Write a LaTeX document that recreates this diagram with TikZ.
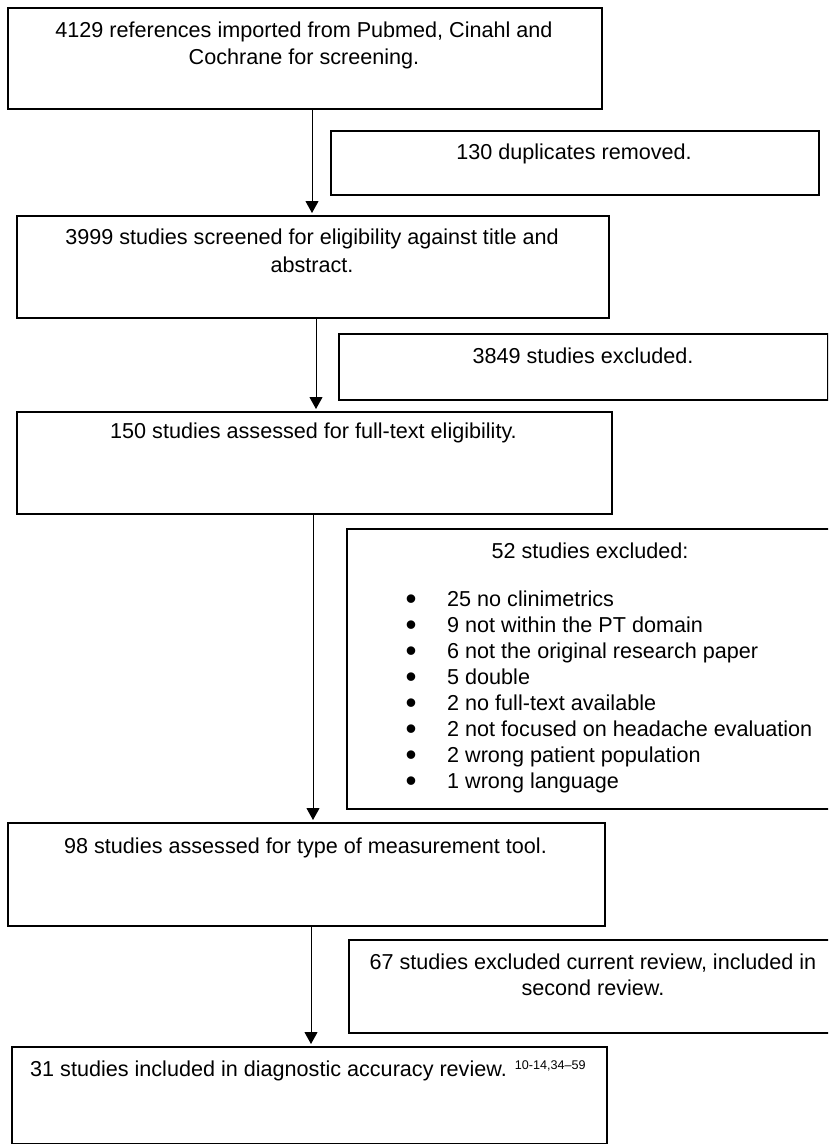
\documentclass[tikz,border=0pt]{standalone}
\usepackage{fontspec}
\setmainfont{Liberation Sans}
\usetikzlibrary{arrows.meta}
\begin{document}
\begin{tikzpicture}[x=1pt,y=-1pt,
  box/.style={draw=black, line width=2pt, inner sep=0pt, anchor=north west, rectangle},
  txt/.style={inner sep=0pt, anchor=base, font=\fontsize{21.6}{28}\selectfont},
  ltxt/.style={txt, anchor=base west},
  arr/.style={draw=black, line width=1pt, -{Triangle[width=13pt,length=12pt]}, shorten >=2pt}]
\useasboundingbox (0,0) rectangle (828,1144);
\clip (0,0) rectangle (828,1144);

% boxes of the main flow
\node[box, minimum width=594pt, minimum height=101pt] (b1) at (7,7) {};
\node[box, minimum width=592pt, minimum height=102pt] (b3) at (16,215) {};
\node[box, minimum width=595pt, minimum height=102pt] (b5) at (16,411) {};
\node[box, minimum width=597pt, minimum height=103pt] (b7) at (7,822) {};
\node[box, minimum width=595pt, minimum height=97pt]  (b9) at (11,1046) {};

% side boxes with exclusions
\node[box, minimum width=488pt, minimum height=64pt]  (b2) at (330,130) {};
\node[box, minimum width=489pt, minimum height=66pt]  (b4) at (338,333) {};
\node[box, minimum width=490pt, minimum height=280pt] (b6) at (346,528) {};
\node[box, minimum width=490pt, minimum height=93pt]  (b8) at (348,939) {};

% texts
\node[txt] (t1a) at (304,37) {4129 references imported from Pubmed, Cinahl and};
\node[txt] (t1b) at (304,64) {Cochrane for screening.};
\node[txt] (t2)  at (574,159) {130 duplicates removed.};
\node[txt] (t3a) at (312,244) {3999 studies screened for eligibility against title and};
\node[txt] (t3b) at (312,272) {abstract.};
\node[txt] (t4)  at (583,363) {3849 studies excluded.};
\node[txt] (t5)  at (313.5,438) {150 studies assessed for full-text eligibility.};
\node[txt] (t6)  at (590,558) {52 studies excluded:};
\foreach \t [count=\i from 0] in {25 no clinimetrics, 9 not within the PT domain,
    6 not the original research paper, 5 double, 2 no full-text available,
    2 not focused on headache evaluation, 2 wrong patient population, 1 wrong language}
  \node[ltxt] (bl\i) at (405.5,606+26.1*\i)
    {\makebox[41.5pt][l]{\smash{\raisebox{-3pt}{\scalebox{1.45}{•}}}}\t};
\node[txt] (t7)  at (305.5,853) {98 studies assessed for type of measurement tool.};
\node[txt] (t8a) at (593,969) {67 studies excluded current review, included in};
\node[txt] (t8b) at (593,995) {second review.};
\node[ltxt] (t9) at (30,1076) {31 studies included in diagnostic accuracy review. \raisebox{7pt}{\fontsize{12.6}{13}\selectfont 10-14,34–59}};

% vertical arrows
\coordinate (x1) at (312,0);
\coordinate (x2) at (316,0);
\coordinate (x3) at (313,0);
\coordinate (x4) at (311,0);
\draw[arr] (x1 |- b1.south) -- (x1 |- b3.north);
\draw[arr] (x2 |- b3.south) -- (x2 |- b5.north);
\draw[arr] (x3 |- b5.south) -- (x3 |- b7.north);
\draw[arr] (x4 |- b7.south) -- (x4 |- b9.north);
\end{tikzpicture}
\end{document}
